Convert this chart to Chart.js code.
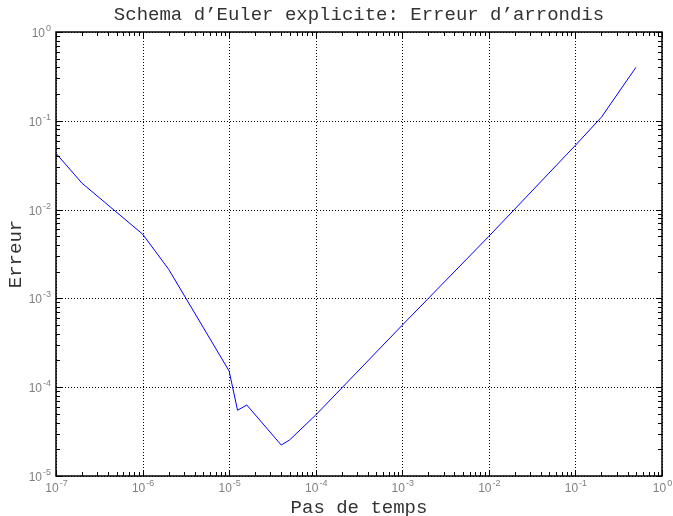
<!DOCTYPE html>
<html>
<head>
<meta charset="utf-8">
<script src="https://cdn.jsdelivr.net/npm/chart.js@4/dist/chart.umd.min.js"></script>
<style>
    html, body { margin: 0; padding: 0; background: #fff; }
    canvas { display: block; }
</style>
</head>
<body>
<canvas id="euler" width="673" height="516"></canvas>
<script>
// time steps (x) and rounding error (y)
var pasTemps = [1e-7, 2e-7, 1e-6, 2e-6, 1e-5, 1.25e-5, 1.6e-5, 4e-5, 5e-5, 1e-4, 1e-3, 1e-2, 1e-1, 2e-1, 5e-1];
var erreur   = [0.043, 0.0198, 0.0053, 0.00213, 1.52e-4, 5.5e-5, 6.3e-5, 2.23e-5, 2.55e-5, 4.86e-5, 5.0e-4, 5.0e-3, 0.053, 0.11, 0.40];
var xExponents = [-7, -6, -5, -4, -3, -2, -1, 0];
var yExponents = [-5, -4, -3, -2, -1, 0];

var MONO = '"Liberation Mono", "DejaVu Sans Mono", monospace';
var SANS = '"Liberation Sans", Arial, sans-serif';

/* ── helpers ─────────────────────────────────────── */
function line(ctx, x1, y1, x2, y2) {
    ctx.beginPath();
    ctx.moveTo(x1, y1);
    ctx.lineTo(x2, y2);
    ctx.stroke();
}

// "10" with a raised exponent; align = 'center' or 'right'
function drawPow(ctx, exp, x, y, align) {
    var e = String(exp);
    ctx.font = '12px ' + SANS;
    var w10 = ctx.measureText('10').width;
    ctx.font = '9px ' + SANS;
    var we = ctx.measureText(e).width;
    var start = align === 'right' ? x - w10 - we : x - (w10 + we) / 2;
    ctx.fillStyle = '#808080';
    ctx.textAlign = 'left';
    ctx.textBaseline = 'alphabetic';
    ctx.font = '12px ' + SANS;
    ctx.fillText('10', start, y);
    ctx.font = '9px ' + SANS;
    ctx.fillText(e, start + w10 + 1, y - 6);
}

/* ── grid under the curve ────────────────────────── */
var gridPlugin = {
    id: 'logGrid',
    beforeDatasetsDraw: function (chart) {
        var ctx = chart.ctx, a = chart.chartArea;
        var sx = chart.scales.x, sy = chart.scales.y;
        ctx.save();
        ctx.strokeStyle = '#000';
        ctx.lineWidth = 1;
        ctx.setLineDash([1, 2]);
        xExponents.forEach(function (p) {
            var px = Math.round(sx.getPixelForValue(Math.pow(10, p))) + 0.5;
            line(ctx, px, a.top, px, a.bottom);
        });
        yExponents.forEach(function (p) {
            var py = Math.round(sy.getPixelForValue(Math.pow(10, p))) + 0.5;
            line(ctx, a.left, py, a.right, py);
        });
        ctx.restore();
    },
    afterDatasetsDraw: function (chart) {
        var ctx = chart.ctx, a = chart.chartArea;
        var sx = chart.scales.x, sy = chart.scales.y;
        ctx.save();
        ctx.strokeStyle = '#000';
        ctx.setLineDash([]);

        // ticks (inside, all four sides)
        ctx.lineWidth = 1;
        xExponents.forEach(function (p, i) {
            for (var k = 1; k <= 9; k++) {
                if (k > 1 && i === xExponents.length - 1) break;
                var px = Math.round(sx.getPixelForValue(k * Math.pow(10, p))) + 0.5;
                var len = k === 1 ? 6 : 4;
                line(ctx, px, a.bottom, px, a.bottom - len);
                line(ctx, px, a.top, px, a.top + len);
            }
        });
        yExponents.forEach(function (p, i) {
            for (var k = 1; k <= 9; k++) {
                if (k > 1 && i === yExponents.length - 1) break;
                var py = Math.round(sy.getPixelForValue(k * Math.pow(10, p))) + 0.5;
                var len = k === 1 ? 6 : 4;
                line(ctx, a.left, py, a.left + len, py);
                line(ctx, a.right, py, a.right - len, py);
            }
        });

        // frame
        ctx.lineWidth = 1.5;
        ctx.strokeRect(a.left, a.top, a.right - a.left, a.bottom - a.top);

        // tick labels
        xExponents.forEach(function (p) {
            drawPow(ctx, p, sx.getPixelForValue(Math.pow(10, p)), a.bottom + 16, 'center');
        });
        yExponents.forEach(function (p) {
            drawPow(ctx, p, a.left - 6, sy.getPixelForValue(Math.pow(10, p)) + 5, 'right');
        });

        // title + axis titles
        ctx.fillStyle = '#333';
        ctx.font = '19px ' + MONO;
        ctx.textAlign = 'center';
        ctx.textBaseline = 'alphabetic';
        var cx = (a.left + a.right) / 2;
        ctx.fillText('Schema d\u2019Euler explicite: Erreur d\u2019arrondis', cx, 20);
        ctx.fillText('Pas de temps', cx, 513);

        ctx.translate(21, (a.top + a.bottom) / 2);
        ctx.rotate(-Math.PI / 2);
        ctx.fillText('Erreur', 0, 0);
        ctx.restore();
    }
};

/* ── chart ───────────────────────────────────────── */
var points = pasTemps.map(function (h, i) { return { x: h, y: erreur[i] }; });

new Chart(document.getElementById('euler'), {
    type: 'scatter',
    data: {
        datasets: [{
            data: points,
            showLine: true,
            borderColor: '#0000ff',
            borderWidth: 1,
            pointRadius: 0,
            pointHoverRadius: 0,
            tension: 0,
            fill: false
        }]
    },
    options: {
        responsive: false,
        animation: false,
        events: [],
        layout: { padding: { left: 56, top: 32, right: 11, bottom: 40 } },
        plugins: {
            legend: { display: false },
            tooltip: { enabled: false },
            title: { display: false }
        },
        scales: {
            x: { type: 'logarithmic', min: 1e-7, max: 1, display: false },
            y: { type: 'logarithmic', min: 1e-5, max: 1, display: false }
        }
    },
    plugins: [gridPlugin]
});
</script>
</body>
</html>
